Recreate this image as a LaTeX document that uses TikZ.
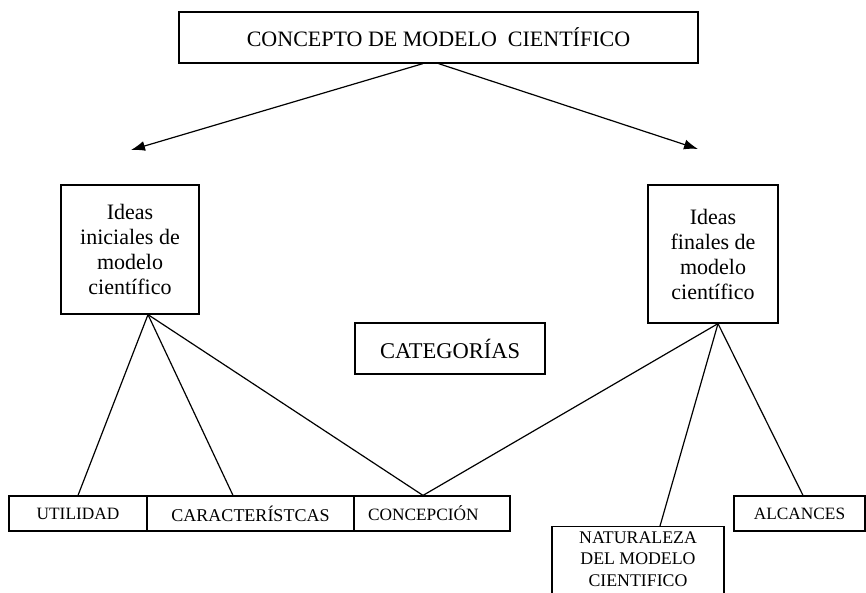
\documentclass[tikz,border=0pt]{standalone}
\usepackage{fontspec}
\setmainfont{Liberation Serif}
\usetikzlibrary{arrows.meta,calc}
\begin{document}
\begin{tikzpicture}[x=1pt,y=-1pt,
  box/.style={draw, line width=1.2pt, inner sep=0pt, align=center},
  big/.style={font=\fontsize{22pt}{25pt}\selectfont},
  small/.style={font=\fontsize{17.3pt}{20pt}\selectfont},
  link/.style={line width=1.2pt},
  arr/.style={line width=1.2pt, -{Latex[length=14pt,width=10pt]}}
]
\useasboundingbox (0,0) rectangle (866,592);
\node[box, big, minimum width=519pt, minimum height=51pt] (top) at (438.5,37.5) {CONCEPTO DE MODELO\ \ CIENTÍFICO};
\node[box, big, minimum width=138pt, minimum height=129pt] (ini) at (130,249.5) {Ideas\\iniciales de\\modelo\\científico};
\node[box, big, minimum width=130pt, minimum height=138pt] (fin) at (713,254) {Ideas\\finales de\\modelo\\científico};
\node[box, font=\fontsize{22.5pt}{26pt}\selectfont, minimum width=190pt, minimum height=51pt] (cat) at (450,348.5) {CATEGORÍAS};
\node[box, small, minimum width=138pt, minimum height=35pt] (util) at (78,513.5) {UTILIDAD};
\node[box, font=\fontsize{18pt}{20pt}\selectfont, minimum width=207pt, minimum height=35pt] (car) at (250.5,513.5) {CARACTERÍSTCAS};
\node[box, small, minimum height=35pt, inner xsep=14pt, text width=128pt, align=left] (con) at (432,513.5) {CONCEPCIÓN};
\node[box, font=\fontsize{17.8pt}{21.5pt}\selectfont, anchor=north, minimum width=172pt, inner ysep=5pt, text depth=12pt] (nat) at (638,526) {NATURALEZA\\DEL MODELO\\CIENTIFICO};
\node[box, small, minimum width=131pt, minimum height=35pt] (alc) at (799.5,513.5) {ALCANCES};
\coordinate (tipL) at (131,150);
\coordinate (tipR) at (698,149);
\draw[arr] ([xshift=-15.5pt]top.south) -- (tipL);
\draw[arr] (top.south) -- (tipR);
\draw[link] ([xshift=18pt]ini.south) -- (util.north);
\draw[link] ([xshift=18pt]ini.south) -- ([xshift=-17.5pt]car.north);
\draw[link] ([xshift=18pt]ini.south) -- ([xshift=-9pt]con.north);
\draw[link] ([xshift=5pt]fin.south) -- ([xshift=-9pt]con.north);
\draw[link] ([xshift=5pt]fin.south) -- ([xshift=22pt]nat.north);
\draw[link] ([xshift=5pt]fin.south) -- ([xshift=3.5pt]alc.north);
\end{tikzpicture}
\end{document}
